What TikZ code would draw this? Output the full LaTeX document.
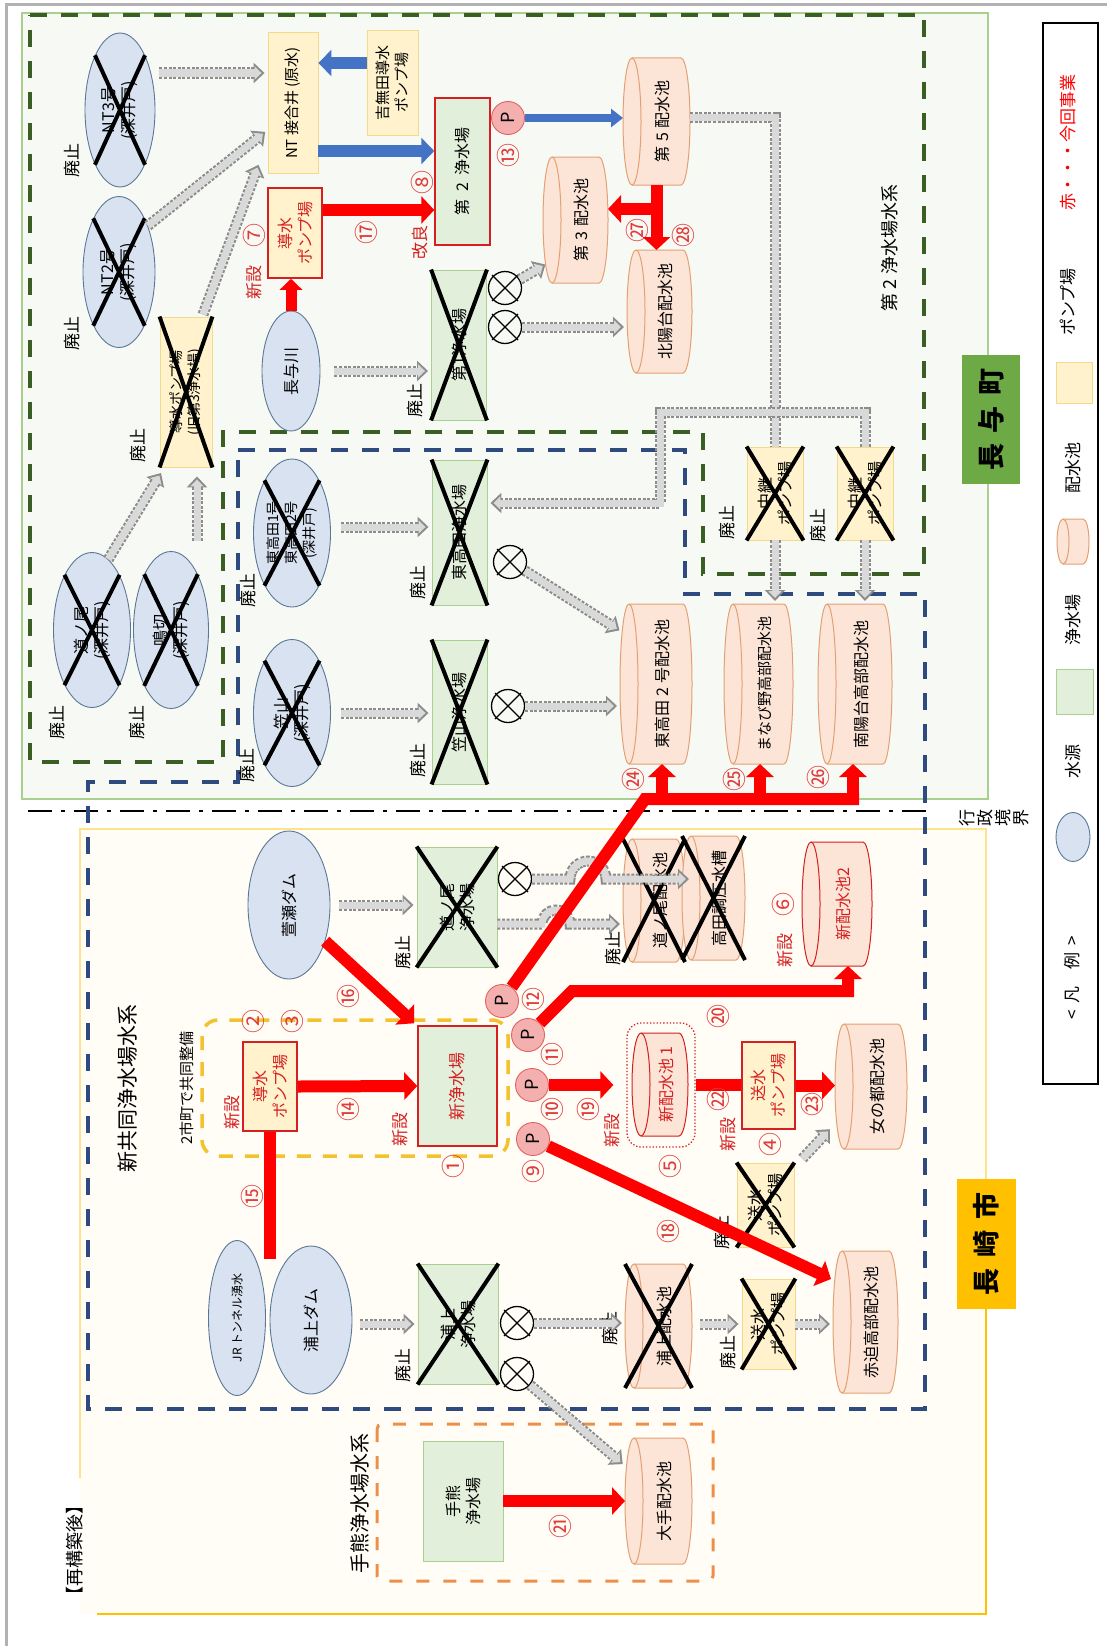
\documentclass[tikz,border=0pt]{standalone}
\usepackage{fontspec}
\setmainfont{Noto Sans CJK JP}
\usetikzlibrary{shapes.geometric,arrows.meta,calc}
\definecolor{srcF}{HTML}{D9E2F0}
\definecolor{srcB}{HTML}{5A7896}
\definecolor{plF}{HTML}{E2EFDA}
\definecolor{plB}{HTML}{A9D08E}
\definecolor{tkF}{HTML}{FCE4D6}
\definecolor{tkB}{HTML}{E3A074}
\definecolor{pmF}{HTML}{FFF2CC}
\definecolor{pmB}{HTML}{F2DA8A}
\definecolor{newR}{HTML}{D42020}
\definecolor{arR}{HTML}{FF0000}
\definecolor{arB}{HTML}{4472C4}
\definecolor{gF}{HTML}{D9D9D9}
\definecolor{gB}{HTML}{8C8C8C}
\definecolor{numR}{HTML}{E03C3C}
\definecolor{grnD}{HTML}{3B5E24}
\definecolor{bluD}{HTML}{2F4A7F}
\definecolor{orD}{HTML}{EC8F4A}
\definecolor{yeD}{HTML}{F2C230}
\definecolor{nyF}{HTML}{F7FAF4}
\definecolor{nyB}{HTML}{A9D08E}
\definecolor{nsF}{HTML}{FFFDF5}
\definecolor{nsB}{HTML}{FFE38A}
\definecolor{nsB2}{HTML}{FFC000}
\definecolor{lblG}{HTML}{6DAA45}
\definecolor{lblY}{HTML}{FFC000}
\definecolor{pcF}{HTML}{F4AFAF}
\tikzset{
  rt/.style={rotate=90, inner sep=0pt, align=center, font=\fontsize{16}{20}\selectfont},
  f14/.style={font=\fontsize{14}{18}\selectfont},
  f15/.style={font=\fontsize{15}{19}\selectfont},
  num/.style={rt, text=numR, font=\fontsize{24}{24}\selectfont},
  lab/.style={rt, font=\fontsize{17}{17}\selectfont},
  newlab/.style={rt, text=newR, font=\fontsize{17}{17}\selectfont},
  ptxt/.style={rt, font=\fontsize{18}{18}\selectfont},
  src/.style={ellipse, draw=srcB, fill=srcF, line width=0.9pt, inner sep=0pt},
  plant/.style={rectangle, draw=plB, fill=plF, line width=0.9pt, inner sep=0pt},
  pump/.style={rectangle, draw=pmB, fill=pmF, line width=0.9pt, inner sep=0pt},
  newb/.style={draw=newR, line width=1.5pt},
  xmark/.style={line width=4pt, black},
  pc/.style={circle, draw=newR!70, fill=pcF, line width=0.9pt, minimum size=33pt, inner sep=0pt},
  rarrow/.style={draw=arR, line width=12pt, -{Triangle[width=27pt,length=13pt]}},
  rline/.style={draw=arR, line width=12pt},
  barrow/.style={draw=arB, line width=12pt, -{Triangle[width=26pt,length=13pt]}},
  garrow/.style={draw=gF, line width=7pt, shorten >=6pt, -{Triangle[width=13pt,length=7pt]},
    preaction={draw=gB, line width=11pt, dash pattern=on 3pt off 1.6pt, shorten >=3pt, -{Triangle[width=20pt,length=11pt]}}},
  gline/.style={draw=gF, line width=7pt,
    preaction={draw=gB, line width=11pt, dash pattern=on 3pt off 1.6pt}},
  grpline/.style={line width=3.5pt, dash pattern=on 17pt off 14pt},
}
\def\tkr{9pt}
\newcommand\tank[8]{%
  \node[minimum width=#6pt, minimum height=#7pt, inner sep=0pt, outer sep=0pt] (#3) at (#4,#5) {};
  \path[draw=#1, fill=tkF, line width=1pt] ([xshift=\tkr]#3.north west) -- ([xshift=-\tkr]#3.north east)
     arc[start angle=90, end angle=-90, x radius=\tkr, y radius=#7pt/2]
     -- ([xshift=\tkr]#3.south west)
     arc[start angle=270, end angle=90, x radius=\tkr, y radius=#7pt/2] -- cycle;
  \draw[draw=#1, line width=1pt] ([xshift=\tkr]#3.north west) arc[start angle=90, end angle=-90, x radius=\tkr, y radius=#7pt/2];
  \node[rt, text=#2] at ([xshift=0.7*\tkr]#3.center) {#8};
}
\newcommand\xmk[1]{\draw[xmark] (#1.north west) -- (#1.south east) (#1.north east) -- (#1.south west);}
\newcommand\valve[3]{%
  \node[circle, draw=black, line width=1.3pt, minimum size=33pt, inner sep=0pt] (#1) at (#2,#3) {};
  \draw[line width=1.3pt] ($(#1)+(-13,-13)$) -- ($(#1)+(13,13)$) ($(#1)+(13,-13)$) -- ($(#1)+(-13,13)$);
}
\begin{document}
\begin{tikzpicture}[x=1pt,y=-1pt]
\useasboundingbox (0,0) rectangle (1107,1646);
\fill[white] (0,0) rectangle (1107,1646);
% frame
\draw[line width=3pt, gray!60] (6,1646) -- (6,5) -- (1107,5);
% regions
\fill[nyF] (22,13) rectangle (988,799);
\draw[nyB, line width=1.2pt] (22,13) rectangle (988,799);
\fill[nsF] (80,829) rectangle (986,1614);
\draw[nsB, line width=1.2pt] (80,1478) -- (80,829) -- (986,829) -- (986,1300);
\draw[nsB2, line width=2pt] (986,1300) -- (986,1614) -- (97,1614);
% town labels
\node[fill=lblG, minimum width=58pt, minimum height=129pt, inner sep=0pt] (nagayo) at (991,419.5) {};
\node[rt, font=\bfseries\fontsize{27}{27}\selectfont] at (nagayo) {長\hspace{0.4em}与\hspace{0.4em}町};
\node[fill=lblY, minimum width=59pt, minimum height=130pt, inner sep=0pt] (nagasaki) at (986.5,1244) {};
\node[rt, font=\bfseries\fontsize{27}{27}\selectfont] at (nagasaki) {長\hspace{0.4em}崎\hspace{0.4em}市};
% administrative boundary
\draw[line width=2.6pt, dash pattern=on 24pt off 9pt on 4pt off 9pt] (28,811) -- (930,811);
\node[rt, font=\fontsize{17}{18}\selectfont] (gyosei) at (994,818) {行\\政\\境\\界};
% group outlines
\draw[grpline, grnD] (30,15) -- (924,15) -- (924,574) -- (703,574) -- (703,432) -- (223,432) -- (223,762) -- (30,762) -- cycle;
\draw[grpline, bluD] (238,450) -- (685,450) -- (685,594) -- (925,594) -- (925,1409) -- (88,1409) -- (88,782) -- (238,782) -- cycle;
\draw[grpline, orD, line width=3pt, dash pattern=on 13pt off 14pt, rounded corners=5pt] (377,1424) rectangle (713,1581);
\draw[grpline, yeD, dash pattern=on 14pt off 12pt, rounded corners=16pt] (202,1020) rectangle (508,1156);
% group labels
\node[rt, font=\fontsize{18}{18}\selectfont] at (890,248) {第 2 浄水場水系};
\node[rt, font=\fontsize{21}{21}\selectfont] at (128,1088) {新共同浄水場水系};
\node[rt, font=\fontsize{20}{20}\selectfont] at (360,1503) {手熊浄水場水系};
\node[rt, font=\fontsize{15}{15}\selectfont] at (187,1088) {2市町で共同整備};
\node[rt, font=\fontsize{18}{18}\selectfont] at (75,1550) {【再構築後】};
% legend
\node[draw, line width=1.8pt, minimum width=55pt, minimum height=1061pt, inner sep=0pt] (legend) at (1070.5,553.5) {};
\node[rt, text=arR, font=\fontsize{17}{17}\selectfont] at (1068,142) {赤・・・今回事業};
\node[pump, minimum width=36pt, minimum height=41pt] (lgp) at (1074,382.5) {};
\node[lab] at (1068,302) {ポンプ場};
\def\tkr{6pt}
\tank{tkB}{black}{lgt}{1073}{541.5}{32}{45}{}
\def\tkr{9pt}
\node[lab] at (1073,468) {配水池};
\node[plant, minimum width=37pt, minimum height=45pt] (lgj) at (1074.5,691.5) {};
\node[lab] at (1073,620) {浄水場};
\node[src, minimum width=34pt, minimum height=49pt] (lgs) at (1073,837) {};
\node[lab] at (1073,761) {水源};
\node[lab] at (1072,978) {<\hspace{0.4em}凡\hspace{1em}例\hspace{0.4em}>};

% ================= Nagayo nodes
\node[src, minimum width=70pt, minimum height=154pt] (nt3) at (120,110) {};
\node[rt] at (nt3) {NT3号\\(深井戸)};
\xmk{nt3}
\node[lab] at (72,160) {廃止};
\node[src, minimum width=72pt, minimum height=151pt] (nt2) at (119,272) {};
\node[rt] at (nt2) {NT2号\\(深井戸)};
\xmk{nt2}
\node[lab] at (72,333) {廃止};
\node[pump, minimum width=52pt, minimum height=150pt] (op) at (186,392) {};
\node[rt, f14] at (op) {導水ポンプ場\\(旧第3浄水場)};
\xmk{op}
\node[lab] at (138,445) {廃止};
\node[src, minimum width=77pt, minimum height=155pt] (w1) at (92,630) {};
\node[rt] at (w1) {道ノ尾\\(深井戸)};
\xmk{w1}
\node[lab] at (57,722) {廃止};
\node[src, minimum width=75pt, minimum height=157pt] (w2) at (171,630) {};
\node[rt] at (w2) {鳴切\\(深井戸)};
\xmk{w2}
\node[lab] at (137,722) {廃止};
\node[src, minimum width=77pt, minimum height=148pt] (eh) at (292,533) {};
\node[rt, f14] at (eh) {東高田1号\\東高田2号\\(深井戸)};
\xmk{eh}
\node[lab] at (248,590) {廃止};
\node[src, minimum width=77pt, minimum height=147pt] (ks) at (292,713) {};
\node[rt] at (ks) {笠山\\(深井戸)};
\xmk{ks}
\node[lab] at (247,765) {廃止};
\node[src, minimum width=58pt, minimum height=120pt] (ny) at (291,371) {};
\node[rt] at (ny) {長与川};
\node[pump, minimum width=50pt, minimum height=141pt] (ntj) at (293,103) {};
\node[rt, f15] at (ntj) {NT 接合井 (原水)};
\node[pump, minimum width=51pt, minimum height=105pt] (ymd) at (392.5,82.5) {};
\node[rt, f15] at (ymd) {吉無田導水\\ポンプ場};
\node[pump, newb, minimum width=54pt, minimum height=90pt] (np7) at (295,233) {};
\node[rt, text=newR] at (np7) {導水\\ポンプ場};
\node[num] at (254,235) {⑦};
\node[newlab] at (254,282) {新設};
\node[plant, newb, minimum width=55pt, minimum height=147pt] (j2) at (462.5,171.5) {};
\node[rt] at (j2) {第\hspace{0.5em}2\hspace{0.5em}浄水場};
\node[num] at (422,182) {⑧};
\node[newlab] at (420,242) {改良};
\node[pc] (p13) at (508,118) {};
\node[ptxt] at (p13) {P};
\node[num] at (508,155) {⑬};
\node[plant, minimum width=55pt, minimum height=150pt] (j1) at (459,345) {};
\node[rt] at (j1) {第1浄水場};
\xmk{j1}
\node[lab] at (415,400) {廃止};
\valve{v1a}{505}{288}
\valve{v1b}{505}{327}
\tank{tkB}{black}{t3}{575.5}{220}{65}{126}{第\hspace{0.3em}3\hspace{0.3em}配水池}
\tank{tkB}{black}{t5}{656.5}{121.5}{67}{127}{第\hspace{0.3em}5\hspace{0.3em}配水池}
\tank{tkB}{black}{thy}{659.5}{311.5}{65}{123}{北陽台配水池}
\node[num] at (637,230) {㉗};
\node[num] at (683,235) {㉘};
\node[plant, minimum width=55pt, minimum height=145pt] (eht) at (459.5,532.5) {};
\node[rt] at (eht) {東高田浄水場};
\xmk{eht}
\node[lab] at (418,582) {廃止};
\node[plant, minimum width=55pt, minimum height=144pt] (kst) at (459.5,712) {};
\node[rt] at (kst) {笠山浄水場};
\xmk{kst}
\node[lab] at (418,760) {廃止};
\valve{v2}{510}{562}
\valve{v3}{508}{706}
\tank{tkB}{black}{t24}{656}{684}{72}{160}{東高田 2 号配水池}
\tank{tkB}{black}{t25}{758.5}{684}{69}{160}{\fontsize{15}{15}\selectfont まなび野高部配水池}
\tank{tkB}{black}{t26}{855}{684}{74}{160}{南陽台高部配水池}
\node[num] at (633,779) {㉔};
\node[num] at (734,779) {㉕};
\node[num] at (818,777) {㉖};
\node[pump, minimum width=56pt, minimum height=93pt] (rp1) at (775,493.5) {};
\node[rt] at (rp1) {中継\\ポンプ場};
\xmk{rp1}
\node[lab] at (727,522) {廃止};
\node[pump, minimum width=56pt, minimum height=93pt] (rp2) at (865,493.5) {};
\node[rt] at (rp2) {中継\\ポンプ場};
\xmk{rp2}
\node[lab] at (818,525) {廃止};

% ================= Nagasaki nodes
\node[src, minimum width=82pt, minimum height=148pt] (kys) at (289,905) {};
\node[rt] at (kys) {萱瀬ダム};
\node[plant, minimum width=80pt, minimum height=120pt] (dnj) at (457,907) {};
\node[rt] at (dnj) {道ノ尾\\浄水場};
\xmk{dnj}
\node[lab] at (403,952) {廃止};
\valve{v4}{515}{879}
\tank{tkB}{black}{dnt1}{654}{900.5}{62}{123}{道ノ尾配水池}
\tank{tkB}{black}{dnt2}{713.5}{898}{63}{124}{高田調圧水槽}
\xmk{dnt1}
\xmk{dnt2}
\tank{newR}{newR}{tn2}{837}{904}{70}{124}{新配水池2}
\node[num] at (783,904) {⑥};
\node[newlab] at (785,950) {新設};
\node[plant, newb, minimum width=79pt, minimum height=120pt] (nj) at (457.5,1086) {};
\node[rt, text=newR, font=\fontsize{17}{17}\selectfont] at (nj) {新浄水場};
\node[newlab] at (400,1129) {新設};
\node[num] at (453,1166) {①};
\node[pump, newb, minimum width=54pt, minimum height=89pt] (np2) at (270,1086.5) {};
\node[rt, text=newR] at (np2) {導水\\ポンプ場};
\node[newlab] at (232,1112) {新設};
\node[num] at (253,1021) {②};
\node[num] at (292,1021) {③};
\node[src, minimum width=57pt, minimum height=155pt] (jr) at (237,1318) {};
\node[rt, font=\fontsize{12}{14}\selectfont] at (jr) {JR トンネル湧水};
\node[src, minimum width=82pt, minimum height=148pt] (ur) at (311,1320) {};
\node[rt] at (ur) {浦上ダム};
\node[plant, minimum width=80pt, minimum height=120pt] (uj) at (458,1324) {};
\node[rt] at (uj) {浦上\\浄水場};
\xmk{uj}
\node[lab] at (403,1365) {廃止};
\valve{v5}{517}{1323}
\valve{v6}{517}{1374}
\tank{tkB}{black}{ut}{658.5}{1326}{67}{124}{浦上配水池}
\xmk{ut}
\node[lab] at (610,1328) {廃止};
\node[pump, minimum width=53pt, minimum height=90pt] (up) at (768.5,1324) {};
\node[rt] at (up) {送水\\ポンプ場};
\xmk{up}
\node[lab] at (728,1352) {廃止};
\tank{tkB}{black}{aks}{865.5}{1322}{65}{142}{赤迫高部配水池}
\node[pump, minimum width=57pt, minimum height=84pt] (omp) at (765.5,1205) {};
\node[rt] at (omp) {送水\\ポンプ場};
\xmk{omp}
\node[lab] at (722,1232) {廃止};
\node[pump, newb, minimum width=53pt, minimum height=87pt] (np4) at (768.5,1085.5) {};
\node[rt, text=newR] at (np4) {送水\\ポンプ場};
\tank{tkB}{black}{omt}{871}{1086.5}{72}{125}{女の都配水池}
\node[draw=newR, dotted, line width=1.3pt, rounded corners=14pt, minimum width=68pt, minimum height=124pt, inner sep=0pt] (n1f) at (661,1085) {};
\tank{newR}{newR}{n1}{660}{1084.5}{56}{103}{新配水池 1}
\node[pc] (p12) at (502,1001) {};
\node[pc] (p11) at (528,1035) {};
\node[pc] (p10) at (532,1085) {};
\node[pc] (p9) at (533,1139) {};
\foreach \p in {p12,p11,p10,p9} {\node[ptxt] at (\p) {P};}
\node[plant, minimum width=80pt, minimum height=120pt] (tk) at (463,1501) {};
\node[rt] at (tk) {手熊\\浄水場};
\tank{tkB}{black}{ot}{658.5}{1501}{67}{126}{大手配水池}

% ================= gray (abolished) flows
\draw[garrow] ($(nt3.east)+(4,-37)$) -- (ntj.west |- 0,73);
\draw[garrow] (nt2.58) -- (ntj.west |- 0,130);
\draw[garrow] ($(op.north)+(17,-2)$) -- ($(ntj.south west)+(-8,-12)$);
\draw[garrow] (w1.77) -- ($(op.south west)+(3,3)$);
\draw[garrow] ($(w2.north)+(26,-10)$) -- ($(op.south)+(11,6)$);
\draw[garrow] ($(ny.east)+(14,0)$) -- (j1.west |- ny.east);
\draw[garrow] (v1a.30) -- ($(t3.south west)+(5,-20)$);
\draw[garrow] (v1b.east) -- (thy.west |- v1b.east);
\draw[garrow] ($(eh.east)+(10,-6)$) -- (eht.west |- 0,527);
\draw[garrow] ($(ks.east)+(10,0)$) -- (kst.west |- ks.east);
\draw[garrow] (v2.-30) -- ($(t24.west)+(2,-52)$);
\draw[garrow] (v3.east) -- (t24.west |- v3.east);
\draw[gline] (t5.east |- 0,117) -- (rp1.north |- 0,117) -- (rp1.north);
\draw[garrow] (rp2.north) -- (rp2.north |- 0,412) -- (660,412) -- (660,503) -- (eht.east |- 0,503);
\draw[garrow] (rp1.south) -- (rp1.south |- t25.north);
\draw[garrow] (rp2.south) -- (rp2.south |- t26.north);
\draw[garrow] ($(kys.east)+(9,0)$) -- (dnj.west |- kys.east);
\draw[garrow] (v4.east) -- (570,879) arc[start angle=180, end angle=0, radius=18pt] -- (692,879);
\draw[garrow] (dnj.east |- 0,924) -- (542,924) arc[start angle=180, end angle=0, radius=14pt] -- (dnt1.west |- 0,924);
\node[lab] at (613,948) {廃止};
\draw[garrow] ($(ur.east)+(8,4)$) -- (uj.west |- 0,1324);
\draw[garrow] (v5.east) -- (ut.west |- v5.east);
\draw[garrow] (v6.-40) -- ($(ot.north west)+(0,28)$);
\draw[garrow] ($(ut.east)+(8,-2)$) -- (up.west |- 0,1324);
\draw[garrow] (up.east) -- (aks.west |- up.east);
\draw[garrow] ($(omp.north east)+(8,-4)$) -- ($(omt.south west)+(-3,-22)$);

% ================= blue flows
\draw[barrow] (ymd.west |- 0,63) -- (ntj.east |- 0,63);
\draw[barrow] (ntj.east |- 0,151) -- (j2.west |- 0,151);
\draw[draw=arB, line width=8pt, -{Triangle[width=18pt,length=12pt]}] (p13.east) -- (t5.west |- p13.east);

% ================= red flows
\draw[rarrow] (np7.east |- 0,210) -- (j2.west |- 0,210);
\node[num] at (366,232) {⑰};
\draw[draw=arR, line width=11pt, -{Triangle[width=22pt,length=11pt]}] (ny.north) -- (ny.north |- np7.south);
\draw[rarrow] (t5.south) -- (t5.south |- thy.north);
\draw[rarrow] (t5.south |- 0,209) -- (t3.east |- 0,209);
\draw[rarrow] (np2.east) -- (nj.west);
\node[num] at (348,1109) {⑭};
\draw[rarrow] (kys.-45) -- ($(nj.north west)+(-3,-2)$);
\node[num] at (348,996) {⑯};
\draw[rline] (np2.south) -- (np2.south |- 0,1259);
\node[num] at (252,1196) {⑮};
\draw[rarrow] (p10.east) -- ($(n1f.west)+(-13,0)$);
\node[num] at (588,1109) {⑲};
\node[newlab] at (612,1130) {新設};
\node[num] at (670,1166) {⑤};
\draw[rline] (n1f.east) -- (np4.west |- n1f.east);
\node[num] at (718,1099) {㉒};
\node[newlab] at (728,1134) {新設};
\node[num] at (770,1144) {④};
\draw[rarrow] (np4.east) -- (omt.west |- np4.east);
\node[num] at (812,1104) {㉓};
\draw[rarrow] (p11.45) -- (572,991) -- (848,991) -- ($(tn2.south)+(11,0)$);
\node[num] at (718,1016) {⑳};
\draw[rline] (p12.55) -- (645,799) -- (859,799);
\coordinate (j24) at (662,805);
\coordinate (j25) at (760,805);
\coordinate (j26) at (853,805);
\draw[rarrow] (j24) -- (j24 |- t24.south);
\draw[rarrow] (j25) -- (j25 |- t25.south);
\draw[rarrow] (j26) -- (j26 |- t26.south);
\draw[rarrow] (p9.-25) -- ($(aks.west)+(-2,-43)$);
\node[num] at (668,1231) {⑱};
\draw[rarrow] (tk.east) -- (ot.west);
\node[num] at (560,1526) {㉑};
\node[num] at (533,999) {⑫};
\node[num] at (552,1054) {⑪};
\node[num] at (552,1109) {⑩};
\node[num] at (533,1171) {⑨};
\end{tikzpicture}
\end{document}
